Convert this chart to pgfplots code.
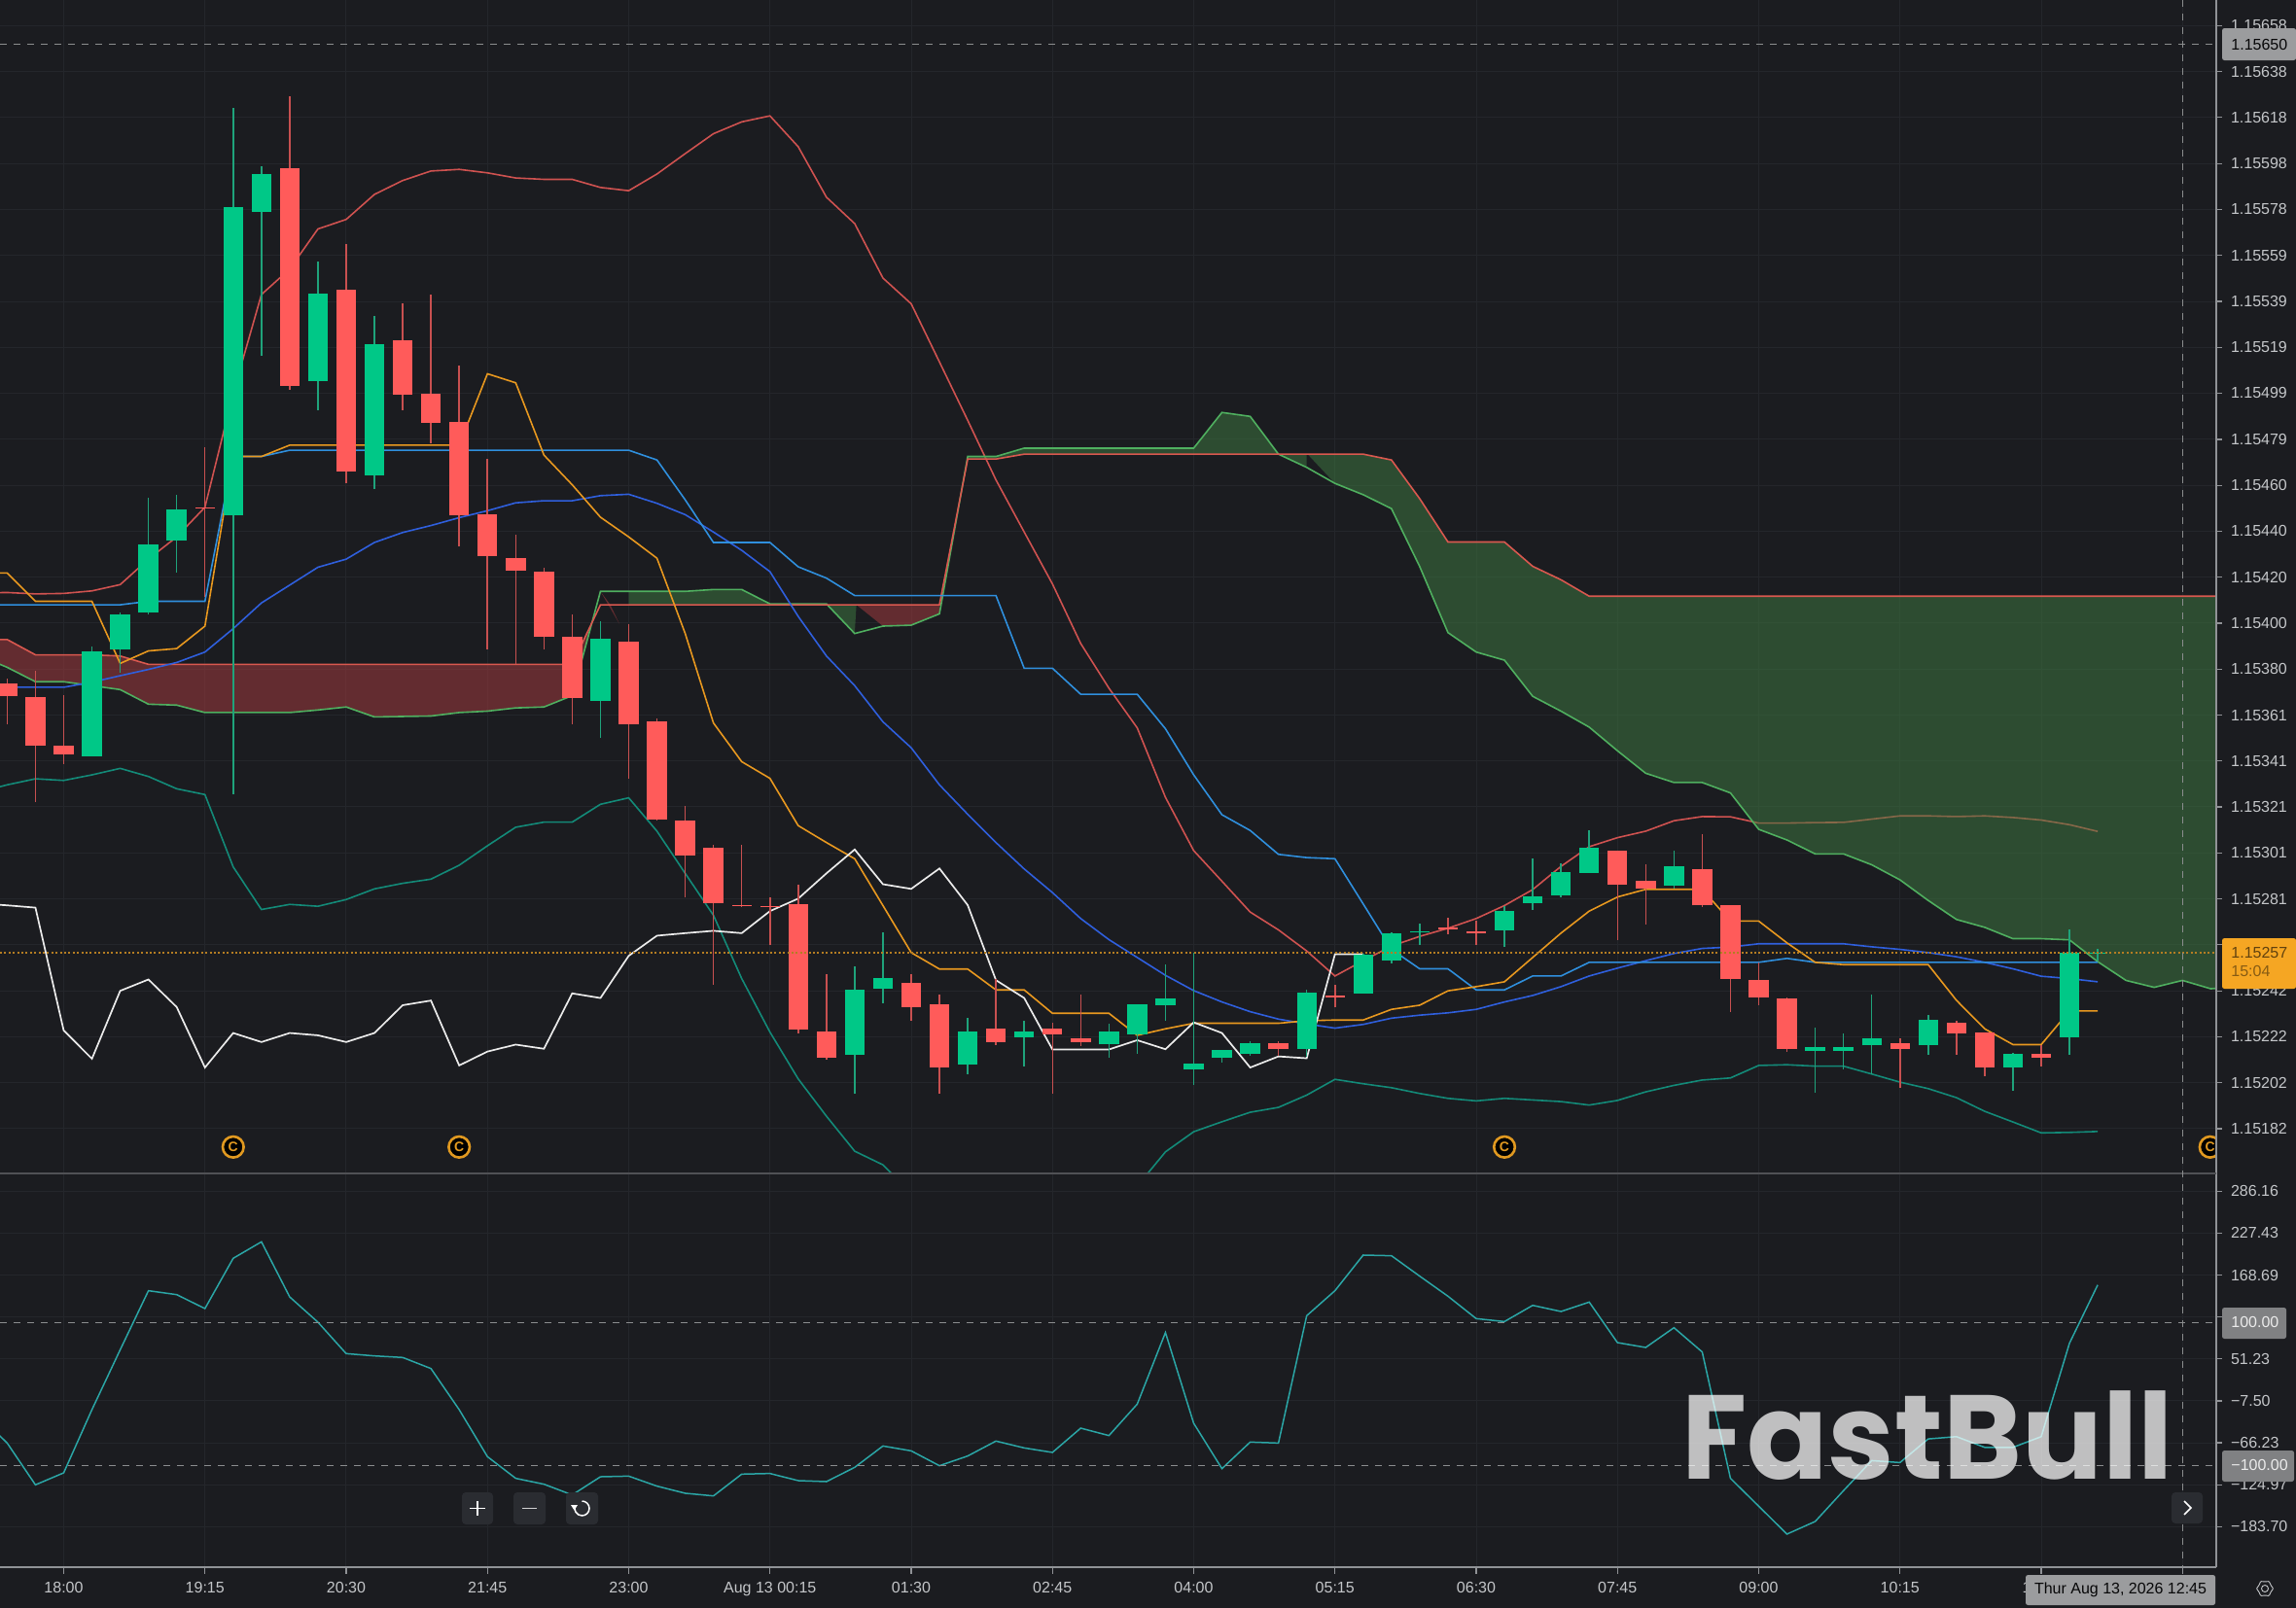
\documentclass[border=0pt]{standalone}
\usepackage{fontspec}
\setmainfont{Liberation Sans}
\newfontfamily\wmfont{Poppins}[BoldFont={Poppins Bold}]
\usepackage{pgfplots}
\usepackage{pgfplotstable}
\pgfplotsset{compat=1.18}
\definecolor{bg}{HTML}{1B1C20}
\definecolor{gridc}{HTML}{24262B}
\definecolor{cup}{HTML}{00C887}
\definecolor{cdn}{HTML}{FF5B5A}
\definecolor{wup}{HTML}{1FA37B}
\definecolor{wdn}{HTML}{C85050}
\definecolor{bbr}{HTML}{CF5250}
\definecolor{bbt}{HTML}{138A78}
\definecolor{bbm}{HTML}{2F5FDD}
\definecolor{kij}{HTML}{2F8FDD}
\definecolor{ten}{HTML}{E8981F}
\definecolor{spg}{HTML}{4FAF5F}
\definecolor{spr}{HTML}{D9584F}
\definecolor{cgr}{HTML}{3F7C42}
\definecolor{crd}{HTML}{AB3C40}
\definecolor{cci}{HTML}{2BA6A6}
\definecolor{txt}{HTML}{C4C6C9}
\definecolor{axl}{HTML}{909296}
\definecolor{tagg}{HTML}{9B9C9E}
\definecolor{tagd}{HTML}{808183}
\definecolor{oran}{HTML}{F5A623}
\definecolor{btn}{HTML}{2A2C31}
% all prices are in units of 0.00001 above 1.15000
\pgfplotstableread[row sep=\\]{
i o h l c\\
1 342.6 389.7 342.6 387.8\\
2 388.6 404.4 378.4 403.8\\
3 404.4 454.1 403.6 433.8\\
4 435.7 455.4 421.6 449.2\\
6 446.4 622.3 326.3 579.5\\
7 577.6 597 515.3 593.6\\
9 504.6 556 491.8 542\\
11 463.9 532.6 458 520.4\\
19 366.6 400.6 350.5 393.1\\
28 213.6 251.9 197 241.7\\
29 242.4 266.5 236.1 247\\
32 209.6 229.8 205.1 223.8\\
34 221.4 228.4 208.6 223.7\\
37 218.1 227 212.6 223.7\\
38 222.7 235.5 214.2 235.5\\
39 235 252.9 228.4 238\\
40 207.3 257.8 200.5 210.1\\
41 212.5 215.7 210.2 215.7\\
42 214.2 219.6 213.3 218.6\\
44 216.4 241.7 213 240.7\\
46 240.3 257.3 240.3 257.1\\
47 254.3 266.5 253.3 266\\
48 266.4 270.4 261.1 266.9\\
51 267.4 277.8 260.4 275.8\\
52 279.3 298.6 276.4 282.1\\
53 282.7 296.2 281.6 292.7\\
54 292.3 310.6 292.3 303\\
57 286.6 301.8 285.5 295.1\\
62 215.3 225.6 197.4 217\\
63 215.3 222.8 207.4 217\\
64 217.7 239.9 205.4 220.9\\
66 217.7 231 213.5 228.8\\
69 208.4 214.4 198.2 214\\
71 221.4 267.9 213.6 257.7\\
72 257.4 259.6 254.3 257.9\\
}\upcandles
\pgfplotstableread[row sep=\\]{
i o h l c\\
-2 374 376.2 356.3 368.7\\
-1 368 379.4 322.7 347.3\\
0 347 368.9 339 343.5\\
5 450 475.7 411.5 449.3\\
8 596.4 627.2 500.7 502.5\\
10 544 563.7 460.5 465.6\\
12 522.1 537.8 491.8 498.6\\
13 498.8 541.6 477.6 486.6\\
14 486.8 511 433.3 446.4\\
15 446.8 470.8 388.6 428.8\\
16 428.2 438 382.2 422.6\\
17 422 423.7 388.6 394\\
18 394.2 403.6 356.3 367.6\\
20 391.8 399.5 332.8 356.3\\
21 357.8 358.9 314.6 315.2\\
22 314.8 321 281.6 299.7\\
23 303 304.4 243.8 279.3\\
24 278.5 304.4 277.6 278\\
25 278 281.8 261.3 277.6\\
26 278.8 287.2 222.8 224.4\\
27 223.8 248.7 211.4 212.5\\
30 244.8 248.6 228.4 234.4\\
31 235.7 239.9 197 208.4\\
33 224.9 246.6 218 219.3\\
35 224.9 227.7 197 222.6\\
36 220.9 239.9 217.5 219.3\\
43 218.6 219.6 213.3 216.4\\
45 239.2 243.8 234.4 238.6\\
49 268.5 272.9 265.8 267.9\\
50 267 271.6 261.1 266.3\\
55 301.8 301.8 263.4 287.3\\
56 288.8 296 270.1 285.5\\
58 293.9 308.8 277.6 278.1\\
59 278.1 278.5 232.3 246.5\\
60 245.9 253.6 235 238.5\\
61 237.9 238.5 215.1 216.4\\
65 218.6 220.7 199.3 216.4\\
67 227.7 228.4 213.5 223.1\\
68 223.3 223.3 204.6 208.4\\
70 214.2 218 208.6 212.5\\
}\downcandles
\pgfplotstableread[row sep=\\]{
i p\\
-3 392.9\\ -2 392.9\\ -1 386.3\\ 0 386.3\\ 1 386.3\\ 2 385.8\\ 3 382.2\\ 4 382.2\\ 5 382.2\\ 6 382.2\\ 7 382.2\\ 8 382.2\\ 9 382.2\\ 10 382.2\\ 11 382.2\\ 12 382.2\\ 13 382.2\\ 14 382.2\\ 15 382.2\\ 16 382.2\\ 17 382.2\\ 18 382.2\\ 19 407.9\\ 20 407.9\\ 21 407.9\\ 22 407.9\\ 23 407.9\\ 24 407.9\\ 25 407.9\\ 26 407.9\\ 27 407.9\\ 28 407.9\\ 29 407.9\\ 30 407.9\\ 31 407.9\\ 32 470.8\\ 33 470.8\\ 34 472.9\\ 35 472.9\\ 36 472.9\\ 37 472.9\\ 38 472.9\\ 39 472.9\\ 40 472.9\\ 41 472.9\\ 42 472.9\\ 43 472.9\\ 44 472.9\\ 45 472.9\\ 46 472.9\\ 47 470.4\\ 48 453.7\\ 49 435\\ 50 435\\ 51 435\\ 52 424.5\\ 53 418.7\\ 54 411.6\\ 55 411.6\\ 56 411.6\\ 57 411.6\\ 58 411.6\\ 59 411.6\\ 60 411.6\\ 61 411.6\\ 62 411.6\\ 63 411.6\\ 64 411.6\\ 65 411.6\\ 66 411.6\\ 67 411.6\\ 68 411.6\\ 69 411.6\\ 70 411.6\\ 71 411.6\\ 72 411.6\\ 73 411.6\\ 74 411.6\\ 75 411.6\\ 76 411.6\\ 77 411.6\\
}\spanR
\pgfplotstableread[row sep=\\]{
i p\\
-3 386\\ -2 380.9\\ -1 374.7\\ 0 374.7\\ 1 373\\ 2 371.3\\ 3 365\\ 4 364.6\\ 5 361.4\\ 6 361.4\\ 7 361.4\\ 8 361.4\\ 9 362.5\\ 10 363.8\\ 11 359.5\\ 12 359.7\\ 13 359.9\\ 14 361.4\\ 15 362\\ 16 363.4\\ 17 363.8\\ 18 368.7\\ 19 413.7\\ 20 413.7\\ 21 413.7\\ 22 413.7\\ 23 414.5\\ 24 414.5\\ 25 408.3\\ 26 408.3\\ 27 408.3\\ 28 395.5\\ 29 398.7\\ 30 399.1\\ 31 404\\ 32 471.9\\ 33 471.9\\ 34 475.5\\ 35 475.5\\ 36 475.5\\ 37 475.5\\ 38 475.5\\ 39 475.5\\ 40 475.5\\ 41 490.9\\ 42 489.2\\ 43 472.9\\ 44 467.2\\ 45 460.3\\ 46 455.4\\ 47 449.4\\ 48 424.4\\ 49 395.9\\ 50 387.5\\ 51 384\\ 52 368.4\\ 53 362\\ 54 355.1\\ 55 344.9\\ 56 335.2\\ 57 331.2\\ 58 331.2\\ 59 326.7\\ 60 311\\ 61 306.4\\ 62 300.4\\ 63 300.4\\ 64 295.7\\ 65 289.2\\ 66 280.3\\ 67 272.1\\ 68 268.7\\ 69 263.8\\ 70 263.8\\ 71 263.3\\ 72 253.9\\ 73 245.8\\ 74 242.8\\ 75 245.8\\ 76 242.2\\ 77 243\\
}\spanG
\begin{document}
\begin{tikzpicture}
\fill[bg] (0pt,0pt) rectangle (1180.5pt,-827pt);
\useasboundingbox (0pt,0pt) rectangle (1180.5pt,-827pt);
\begin{axis}[
  at={(0pt,0pt)},anchor=north west,scale only axis,width=1139.5pt,height=603.85pt,
  xmin=-2.2547,xmax=76.196,ymin=162.2,ymax=668.9,
  axis line style={draw=none},
  xtick={0,5,...,75},xticklabels={},
  ytick={657.8,638,618.2,598.3,578.5,558.7,538.8,519,499.2,479.3,459.5,439.7,419.8,400,380.2,360.3,340.5,320.7,300.8,281,261.2,241.3,221.5,201.7,181.8},
  yticklabels={1.15658,1.15638,1.15618,1.15598,1.15578,1.15559,1.15539,1.15519,1.15499,1.15479,1.15460,1.15440,1.15420,1.15400,1.15380,1.15361,1.15341,1.15321,1.15301,1.15281,,1.15242,1.15222,1.15202,1.15182},
  yticklabel pos=right,
  xtick pos=bottom,ytick pos=right,
  tick align=outside,
  xtick style={draw=none},
  ytick style={draw=axl,line width=0.6pt},
  major tick length=3pt,
  ticklabel style={font=\fontsize{8}{9.5}\selectfont,text=txt},
  yticklabel style={anchor=west,xshift=1pt},
  grid=major,
  grid style={draw=gridc,line width=0.5pt},
  clip=true,clip marker paths=true,
]
% Bollinger upper band (under the cloud)
\addplot[bbr,line width=0.8pt] coordinates {(-3,413)(-2,413.2)(-1,412.6)(0,412.8)(1,413.9)(2,416.6)(3,427.6)(4,437.2)(5,450)(6,499.2)(7,541.8)(8,552.8)(9,570.1)(10,574.2)(11,585)(12,591)(13,595.1)(14,595.8)(15,594.3)(16,592.1)(17,591.5)(18,591.5)(19,588)(20,586.6)(21,593.8)(22,602.6)(23,611.2)(24,616.3)(25,618.9)(26,605.6)(27,583.8)(28,572.4)(29,548.9)(30,537.8)(31,512.7)(32,487.5)(33,461.8)(34,439.3)(35,416.9)(36,391.2)(37,371.9)(38,354.8)(39,324.8)(40,301.8)(41,288.6)(42,275.3)(43,267.6)(44,258.5)(45,247.7)(46,254.3)(47,260.6)(48,264.8)(49,268.3)(50,272.5)(51,278.1)(52,285)(53,295)(54,303.5)(55,307.4)(56,310.2)(57,314.7)(58,316.5)(59,316.4)(60,313.7)(61,313.7)(62,313.9)(63,314)(64,315.4)(65,316.8)(66,316.8)(67,316.5)(68,316.8)(69,316.1)(70,315)(71,313)(72,310.1)};
% Ichimoku cloud
\addplot[fill=crd,fill opacity=.5,draw=none] coordinates {(-3,392.9)(-2,392.9)(-1,386.3)(0,386.3)(1,386.3)(2,385.8)(3,382.2)(18,382.2)(18.7,400.2)(18,368.7)(17,363.8)(16,363.4)(15,362)(14,361.4)(13,359.9)(12,359.7)(11,359.5)(10,363.8)(9,362.5)(8,361.4)(5,361.4)(4,364.6)(3,365)(2,371.3)(1,373)(0,374.7)(-1,374.7)(-2,380.9)(-3,386)} --cycle;
\addplot[fill=cgr,fill opacity=.5,draw=none] coordinates {(20,413.7)(22,413.7)(23,414.5)(24,414.5)(25,408.3)(27,408.3)(27,407.9)(20,407.9)} --cycle;
\addplot[fill=cgr,fill opacity=.5,draw=none] coordinates {(32,471.9)(33,471.9)(34,475.5)(40,475.5)(41,490.9)(42,489.2)(43,472.9)(44,467.2)(44,472.9)(34,472.9)(33,470.8)(32,470.8)} --cycle;
\addplot[fill=cgr,fill opacity=.5,draw=none] coordinates {(45,472.9)(46,472.9)(47,470.4)(48,453.7)(49,435)(51,435)(52,424.5)(53,418.7)(54,411.6)(77,411.6)(77,243)(76,242.2)(75,245.8)(74,242.8)(73,245.8)(72,253.9)(71,263.3)(70,263.8)(69,263.8)(68,268.7)(67,272.1)(66,280.3)(65,289.2)(64,295.7)(63,300.4)(62,300.4)(61,306.4)(60,311)(59,326.7)(58,331.2)(57,331.2)(56,335.2)(55,344.9)(54,355.1)(53,362)(52,368.4)(51,384)(50,387.5)(49,395.9)(48,424.4)(47,449.4)(46,455.4)(45,460.3)} --cycle;
\addplot[fill=cgr,fill opacity=.5,draw=none] coordinates {(27,407.9)(28,395.5)(28.06,407.9)} --cycle;
\addplot[fill=crd,fill opacity=.5,draw=none] coordinates {(28.06,407.9)(29,398.7)(30,399.1)(31,404)(31,407.9)} --cycle;
\addplot[fill=crd,fill opacity=.5,draw=none] coordinates {(19,413.7)(19.67,399.7)(19.35,407.9)} --cycle;
\addplot[fill=cgr,fill opacity=.5,draw=none] coordinates {(44.03,472.9)(45,460.3)(45,472.9)} --cycle;
\addplot[spg,line width=0.8pt] table[x=i,y=p] {\spanG};
\addplot[spr,line width=0.8pt] table[x=i,y=p] {\spanR};
% Bollinger lower and middle
\addplot[bbt,line width=0.8pt] coordinates {(-3,327)(-2,330.2)(-1,332.8)(0,332.1)(1,334.5)(2,337.3)(3,333.8)(4,328.5)(5,326)(6,294.8)(7,276.4)(8,278.6)(9,277.8)(10,280.7)(11,285.3)(12,287.7)(13,289.5)(14,295.5)(15,303.9)(16,311.9)(17,314.1)(18,314.1)(19,321.8)(20,324.6)(21,310.2)(22,292)(23,273.9)(24,246.6)(25,223.5)(26,203.3)(27,187.2)(28,172.1)(29,166.2)(30,154)(31,145)(32,140)(33,135)(34,130)(35,130)(36,135)(37,140)(38,157)(39,171.8)(40,180.5)(41,184.8)(42,188.9)(43,191)(44,196.3)(45,203.1)(46,201.2)(47,199.5)(48,197)(49,194.9)(50,193.8)(51,194.9)(52,194.2)(53,193.5)(54,192)(55,194)(56,197.7)(57,200.5)(58,202.8)(59,203.7)(60,209.1)(61,209.4)(62,208.8)(63,208.8)(64,205.4)(65,201.9)(66,199.1)(67,195.2)(68,189.3)(69,184.7)(70,180)(71,180.2)(72,180.6)};
\addplot[bbm,line width=0.8pt] coordinates {(-3,372.3)(-2,372.3)(-1,372.3)(0,372.3)(1,374.5)(2,377.3)(3,380)(4,383)(5,387.5)(6,397.6)(7,408.7)(8,416.4)(9,424.1)(10,427.6)(11,434.8)(12,439.1)(13,442.1)(14,445.5)(15,448.5)(16,451.9)(17,452.8)(18,452.8)(19,455)(20,455.6)(21,451.7)(22,446.8)(23,439.3)(24,431.4)(25,422.2)(26,402.9)(27,385.8)(28,373)(29,357.4)(30,346.2)(31,330.2)(32,317.5)(33,305.3)(34,293.9)(35,283.7)(36,272.5)(37,263.4)(38,255.7)(39,248)(40,241.4)(41,236.5)(42,232.3)(43,229.1)(44,227)(45,225.2)(46,226.8)(47,229.5)(48,230.8)(49,231.8)(50,233.3)(51,236.5)(52,239.3)(53,243.1)(54,247.7)(55,251.1)(56,254.3)(57,257.4)(58,259.6)(59,260.2)(60,261.6)(61,261.6)(62,261.6)(63,261.6)(64,260.3)(65,259.2)(66,257.8)(67,256)(68,253.6)(69,250.8)(70,247.6)(71,246.6)(72,245.2)};
% Kijun
\addplot[kij,line width=0.8pt] coordinates {(-3,407.9)(-2,407.9)(-1,407.9)(0,407.9)(1,407.9)(2,407.9)(3,409.4)(4,409.4)(5,409.4)(6,471.9)(7,471.9)(8,474.6)(9,474.6)(10,474.6)(11,474.6)(12,474.6)(13,474.6)(14,474.6)(15,474.6)(16,474.6)(17,474.6)(18,474.6)(19,474.6)(20,474.6)(21,470.4)(22,453.2)(23,434.8)(24,434.8)(25,434.8)(26,424.3)(27,419.4)(28,411.9)(29,411.9)(30,411.9)(31,411.9)(32,411.9)(33,411.9)(34,380.5)(35,380.5)(36,369.3)(37,369.3)(38,369.3)(39,354.4)(40,334.5)(41,317.3)(42,310.5)(43,300.2)(44,298.8)(45,298.3)(46,278.8)(47,259.2)(48,250.8)(49,250.8)(50,241.7)(51,241.7)(52,247.7)(53,247.7)(54,253.6)(55,253.6)(56,253.6)(57,253.6)(58,253.6)(59,253.6)(60,253.6)(61,255.3)(62,253.6)(63,253.6)(64,253.6)(65,253.6)(66,253.6)(67,253.6)(68,253.6)(69,253.6)(70,253.6)(71,253.6)(72,253.6)};
% Tenkan
\addplot[ten,line width=0.8pt] coordinates {(-3,421.6)(-2,421.6)(-1,409.4)(0,409.4)(1,409.4)(2,382.6)(3,388)(4,389)(5,398.7)(6,471.9)(7,471.9)(8,476.8)(9,476.8)(10,476.8)(11,476.8)(12,476.8)(13,476.8)(14,476.8)(15,507.6)(16,503.7)(17,472.5)(18,459.7)(19,445.7)(20,437.2)(21,428)(22,395.5)(23,356.9)(24,340.2)(25,333)(26,312.6)(27,305.3)(28,298.3)(29,278.1)(30,257.8)(31,250.7)(32,250.7)(33,241.7)(34,241.7)(35,231.6)(36,231.6)(37,231.6)(38,222.1)(39,224.9)(40,227.3)(41,227.3)(42,227.3)(43,227.3)(44,228.4)(45,228.7)(46,228.7)(47,233.3)(48,235.1)(49,241.3)(50,243.1)(51,245.2)(52,255.7)(53,266.2)(54,275.7)(55,281.8)(56,285.1)(57,285.1)(58,285.1)(59,271.4)(60,271.4)(61,262)(62,253.6)(63,252.6)(64,252.6)(65,252.6)(66,252.6)(67,237.2)(68,224.9)(69,218.1)(70,218.1)(71,232.6)(72,232.6)};
% Chikou
\addplot[white!92!black,line width=0.85pt] coordinates {(-3,279)(-2,278.2)(-1,277.2)(0,224.2)(1,212)(2,241.3)(3,246.2)(4,234.3)(5,208.2)(6,223.1)(7,219.2)(8,223.1)(9,222.1)(10,219.2)(11,223.1)(12,235.1)(13,237.1)(14,209.1)(15,215.1)(16,218.1)(17,216.3)(18,240.2)(19,238.2)(20,256.4)(21,265.1)(22,266.2)(23,267.2)(24,266.2)(25,275.7)(26,281.1)(27,292)(28,302.3)(29,287.3)(30,285.3)(31,294.1)(32,278.3)(33,245.9)(34,238.2)(35,216)(36,216)(37,216)(38,220)(39,216.1)(40,227.7)(41,223.1)(42,208.2)(43,213)(44,212.2)(45,257.1)(46,257.1)};
% Candles: wicks, then bodies
\addplot[draw=none,mark=none,error bars/.cd,y dir=both,y explicit,error mark=none,error bar style={draw=wup,line width=0.75pt}] table[x=i,y=o,y error plus expr=\thisrow{h}-\thisrow{o},y error minus expr=\thisrow{o}-\thisrow{l}] {\upcandles};
\addplot[draw=none,mark=none,error bars/.cd,y dir=both,y explicit,error mark=none,error bar style={draw=wdn,line width=0.75pt}] table[x=i,y=o,y error plus expr=\thisrow{h}-\thisrow{o},y error minus expr=\thisrow{o}-\thisrow{l}] {\downcandles};
\addplot[draw=none,mark=none,error bars/.cd,y dir=plus,y explicit,error mark=none,error bar style={draw=cup,line width=10.2pt}] table[x=i,y=o,y error plus expr=\thisrow{c}-\thisrow{o}] {\upcandles};
\addplot[draw=none,mark=none,error bars/.cd,y dir=plus,y explicit,error mark=none,error bar style={draw=cdn,line width=10.2pt}] table[x=i,y=c,y error plus expr=\thisrow{o}-\thisrow{c}] {\downcandles};
% Copyright markers
\addplot[only marks,mark=*,mark size=5.4pt,mark options={draw=oran!92!black,line width=1.3pt,fill=none},
  nodes near coords={C},nodes near coords align={center},
  every node near coord/.style={font=\bfseries\fontsize{7}{8}\selectfont,text=oran!92!black,anchor=center}]
  coordinates {(6,173.9)(14,173.9)(51,173.9)(75.98,173.9)};
\end{axis}
\begin{axis}[
  at={(0pt,-603.85pt)},anchor=north west,scale only axis,width=1139.5pt,height=202.5pt,
  xmin=-2.2547,xmax=76.196,ymin=-241.4,ymax=310.1,
  axis line style={draw=none},
  xtick={0,5,...,75},
  xticklabels={18:00,19:15,20:30,21:45,23:00,Aug 13 00:15,01:30,02:45,04:00,05:15,06:30,07:45,09:00,10:15,11:30,},
  ytick={286.16,227.43,168.69,109.96,51.23,-7.5,-66.23,-124.97,-183.7},
  yticklabels={286.16,227.43,168.69,,51.23,−7.50,−66.23,−124.97,−183.70},
  yticklabel pos=right,
  xtick pos=bottom,ytick pos=right,
  tick align=outside,
  tick style={draw=axl,line width=0.6pt},
  major tick length=3pt,
  ticklabel style={font=\fontsize{8}{9.5}\selectfont,text=txt},
  yticklabel style={anchor=west,xshift=1pt},
  xticklabel style={yshift=-1pt},
  grid=major,
  grid style={draw=gridc,line width=0.5pt},
]
\addplot[cci,line width=0.75pt] coordinates {(-3,-28)(-2,-66.6)(-1,-125.1)(0,-108.3)(1,-19.8)(2,64.1)(3,146.8)(4,141.3)(5,121.8)(6,192.2)(7,215.3)(8,138.1)(9,102.7)(10,58.7)(11,55.5)(12,53.3)(13,37.8)(14,-19.8)(15,-85.6)(16,-116)(17,-124.2)(18,-139.2)(19,-113.8)(20,-112.9)(21,-126.9)(22,-136.9)(23,-140.6)(24,-110.1)(25,-109.2)(26,-119.2)(27,-120.6)(28,-100.6)(29,-70.7)(30,-77.5)(31,-98.3)(32,-84.7)(33,-63.8)(34,-73.4)(35,-79.7)(36,-45.7)(37,-56.1)(38,-12.1)(39,88.2)(40,-38.9)(41,-102.4)(42,-65.2)(43,-66.6)(44,111.8)(45,146.8)(46,196.7)(47,195.8)(48,167.2)(49,139.1)(50,107.7)(51,103.6)(52,126.3)(53,117.7)(54,130.9)(55,74.1)(56,67.3)(57,95)(58,61)(59,-116)(60,-155)(61,-194.1)(62,-176.4)(63,-133.3)(64,-91.2)(65,-93.9)(66,-60.8)(67,-57.6)(68,-72.6)(69,-72.6)(70,-57.6)(71,73.2)(72,154.9)};
\end{axis}
\begin{scope}[x=0.5pt,y=-0.5pt]
% axis frame
\draw[axl,line width=0.7pt] (2279,0) -- (2279,1612);
\draw[axl,line width=0.7pt] (0,1612) -- (2279,1612);
\draw[axl!45!bg,line width=0.8pt] (0,1207) -- (2279,1207);
% dotted last price
\draw[oran!70!bg,line width=0.55pt,dash pattern=on 1pt off 1.2pt] (0,980) -- (2279,980);
% crosshair and level lines
\draw[tagg!90!black,line width=0.5pt,dash pattern=on 3.5pt off 3.5pt] (0,45) -- (2276,45);
\draw[tagg!90!black,line width=0.5pt,dash pattern=on 3.5pt off 3.5pt] (2244,0) -- (2244,1612);
\draw[tagg!90!black,line width=0.5pt,dash pattern=on 3.5pt off 3.5pt] (0,1360.7) -- (2279,1360.7);
\draw[tagg!90!black,line width=0.5pt,dash pattern=on 3.5pt off 3.5pt] (0,1507.6) -- (2279,1507.6);
% tags
\fill[tagg,rounded corners=1.2pt] (2285,29) rectangle (2361,62);
\node[anchor=west,inner sep=0pt,font=\fontsize{8}{9.5}\selectfont,text=black!75!bg] at (2294,45.5) {1.15650};
\fill[tagd,rounded corners=1.2pt] (2285,1345) rectangle (2351,1377);
\node[anchor=west,inner sep=0pt,font=\fontsize{8}{9.5}\selectfont,text=white!92!black] at (2294,1360) {100.00};
\fill[tagd,rounded corners=1.2pt] (2285,1492) rectangle (2359,1524);
\node[anchor=west,inner sep=0pt,font=\fontsize{8}{9.5}\selectfont,text=white!92!black] at (2294,1507) {−100.00};
\fill[oran,rounded corners=1.2pt] (2285,965) rectangle (2361,1017);
\node[anchor=west,inner sep=0pt,font=\fontsize{8}{9.5}\selectfont,text=black!60!oran] at (2294,980) {1.15257};
\node[anchor=west,inner sep=0pt,font=\fontsize{8}{9.5}\selectfont,text=black!45!oran] at (2294,999) {15:04};
\fill[tagg,rounded corners=1.2pt] (2083,1620) rectangle (2278,1651);
\node[anchor=center,inner sep=0pt,font=\fontsize{8}{9.5}\selectfont,text=black!75!bg] at (2180.5,1635) {Thur Aug 13, 2026 12:45};
% buttons
\fill[btn,rounded corners=2pt] (475,1535) rectangle (507,1568);
\fill[btn,rounded corners=2pt] (528,1535) rectangle (561,1568);
\fill[btn,rounded corners=2pt] (582,1535) rectangle (615,1568);
\fill[btn,rounded corners=2pt] (2233,1535) rectangle (2265,1567);
\draw[white,line width=0.75pt] (483,1551.5) -- (499,1551.5) (491,1544) -- (491,1559);
\draw[white!80!bg,line width=0.75pt] (537,1551.5) -- (552,1551.5);
\draw[white,line width=0.75pt] (598.5,1544) arc[start angle=-90,end angle=200,radius=7.5];
\fill[white] (587,1548) -- (594,1548) -- (590.5,1553.5) -- cycle;
\draw[white,line width=0.75pt] (2246,1544) -- (2253,1551) -- (2246,1558);
% gear
\draw[txt,line width=0.45pt] (2329,1634) circle[radius=3.5];
\draw[txt,line width=0.45pt,rounded corners=0.4pt] (2337.6,1634)
  \foreach \a in {30,60,...,330}{-- ({2329+(mod(\a,60)==30 ? 7 : 8.6)*cos(\a)},{1634+(mod(\a,60)==30 ? 7 : 8.6)*sin(\a)})} -- cycle;
% watermark
\node[anchor=base west,inner sep=0pt,text=white,text opacity=.72,font=\wmfont\bfseries\fontsize{61.4}{66}\selectfont] at (1729,1521) {FastBull};
\end{scope}
\end{tikzpicture}
\end{document}
